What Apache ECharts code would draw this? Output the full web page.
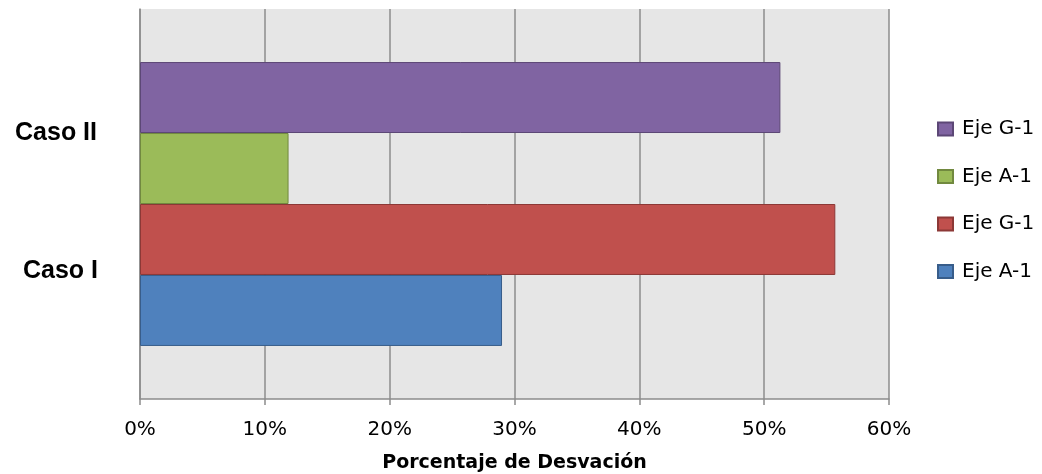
<!DOCTYPE html>
<html>
<head>
<meta charset="utf-8">
<script src="https://cdn.jsdelivr.net/npm/echarts@6/dist/echarts.min.js"></script>
<style>
  html, body { margin: 0; padding: 0; background: #fff; }
  #chart { width: 1042px; height: 474px; }
</style>
</head>
<body>
<div id="chart"></div>
<script>
// datos (porcentaje de desviación)
var casos = ['Caso I', 'Caso II'];
var ejes = ['Eje A-1', 'Eje G-1'];
var casoI = [29.0, 55.7];   // Eje A-1, Eje G-1
var casoII = [11.9, 51.3];  // Eje A-1, Eje G-1
var xTicks = [0, 10, 20, 30, 40, 50, 60];

var colores = {
  'Caso I': [['#4f81bd', '#385d8a'], ['#c0504d', '#8c3836']],
  'Caso II': [['#9bbb59', '#71893f'], ['#8064a2', '#5c4776']]
};

var chart = echarts.init(document.getElementById('chart'));

// orden de arriba hacia abajo: Caso II G-1, Caso II A-1, Caso I G-1, Caso I A-1
var series = [];
[[casos[1], casoII], [casos[0], casoI]].forEach(function (c) {
  [1, 0].forEach(function (j) {
    series.push({
      name: c[0] + '|' + ejes[j],
      type: 'bar',
      data: [c[1][j]],
      barGap: '0%',
      barCategoryGap: '27.2%',
      itemStyle: {
        color: colores[c[0]][j][0],
        borderColor: colores[c[0]][j][1],
        borderWidth: 1
      }
    });
  });
});

var option = {
  animation: false,
  grid: {
    left: 140, right: 153, top: 9, bottom: 75,
    outerBoundsMode: 'none',
    containLabel: false,
    show: true, backgroundColor: '#e6e6e6', borderWidth: 0
  },
  legend: {
    orient: 'vertical',
    left: 937, top: 119,
    padding: 0,
    icon: 'rect',
    itemWidth: 15, itemHeight: 13,
    itemGap: 27.5,
    data: series.map(function (s) { return s.name; }),
    formatter: function (name) { return name.split('|')[1]; },
    textStyle: { fontFamily: 'DejaVu Sans', fontSize: 20, color: '#000', padding: [0, 0, 0, 4] }
  },
  xAxis: {
    type: 'value',
    min: xTicks[0], max: xTicks[xTicks.length - 1], interval: 10,
    name: 'Porcentaje de Desvación',
    nameLocation: 'middle',
    nameGap: 55,
    nameTextStyle: { fontFamily: 'DejaVu Sans', fontWeight: 'bold', fontSize: 19, color: '#000' },
    axisLine: { show: true, lineStyle: { color: '#8c8c8c', width: 1.5 } },
    axisTick: { show: true, length: 6, lineStyle: { color: '#8c8c8c', width: 1.5 } },
    splitLine: { show: true, lineStyle: { color: '#8c8c8c', width: 1.5 } },
    axisLabel: {
      formatter: '{value}%', margin: 21,
      fontFamily: 'DejaVu Sans', fontSize: 20, color: '#000'
    }
  },
  yAxis: {
    type: 'category',
    data: [''],
    axisLine: { show: true, lineStyle: { color: '#8c8c8c', width: 1.5 } },
    axisTick: { show: false },
    axisLabel: { show: false }
  },
  graphic: [
    { type: 'text', style: { text: casos[1], x: 97, y: 133, textAlign: 'right', textVerticalAlign: 'middle',
      font: 'bold 25px "Liberation Sans", Arial, sans-serif', fill: '#000' } },
    { type: 'text', style: { text: casos[0], x: 98, y: 271, textAlign: 'right', textVerticalAlign: 'middle',
      font: 'bold 25px "Liberation Sans", Arial, sans-serif', fill: '#000' } }
  ],
  series: series
};

chart.setOption(option);
</script>
</body>
</html>
